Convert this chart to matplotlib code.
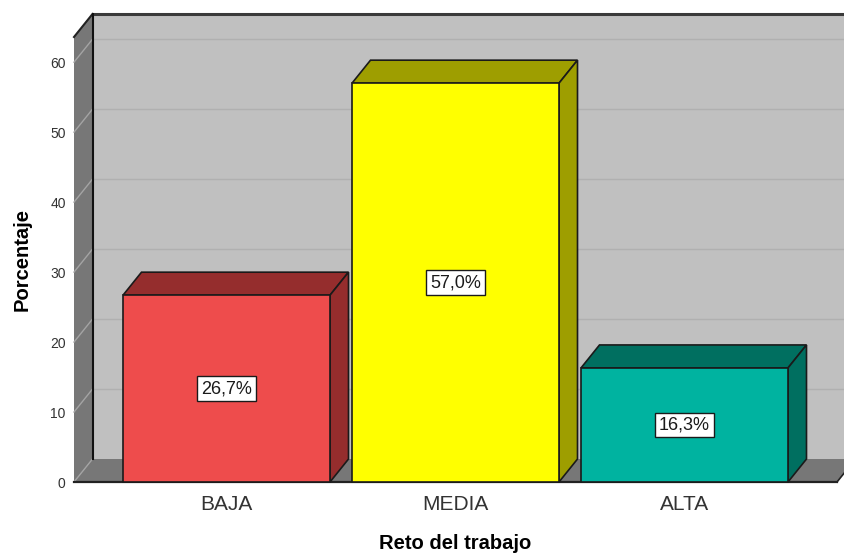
import numpy as np
import matplotlib.pyplot as plt
from matplotlib.patches import Polygon, Rectangle

plt.rcParams['font.family'] = ['Liberation Sans', 'DejaVu Sans']

# datos del gráfico
categorias = ['BAJA', 'MEDIA', 'ALTA']
porcentajes = [26.7, 57.0, 16.3]
etiquetas = ['26,7%', '57,0%', '16,3%']
ticks_y = [0, 10, 20, 30, 40, 50, 60]

colores_frente = ['#ee4c4c', '#ffff00', '#00b3a0']
colores_sombra = ['#952d2d', '#9e9e00', '#006f60']

# escala y profundidad del efecto 3D
xmin, xmax = -0.666, 2.666
ymax = 63.6
ancho_barra = 0.904
prof_px = (18.5, 23.0)

fig = plt.figure(figsize=(8.44, 5.56), dpi=100)
ax = fig.add_axes([74 / 844, 74 / 556, 763 / 844, 445 / 556])
ax.set_xlim(xmin, xmax)
ax.set_ylim(0, ymax)
for s in ax.spines.values():
    s.set_visible(False)
ax.patch.set_visible(False)

# pasar el desplazamiento en pixeles a unidades de datos
p0 = ax.transData.transform((0, 0))
ddx, ddy = ax.transData.inverted().transform((p0[0] + prof_px[0], p0[1] + prof_px[1]))

# pared del fondo
ax.add_patch(Rectangle((xmin + ddx, ddy), xmax - xmin, ymax, facecolor='#c0c0c0',
                       edgecolor='none', zorder=0, clip_on=False))
for t in ticks_y[1:]:
    ax.plot([xmin + ddx, xmax + ddx], [t + ddy, t + ddy], color='#b0b0b0', lw=1.0,
            zorder=1, clip_on=False)
ax.plot([xmin + ddx, xmax + ddx + 1], [ymax + ddy, ymax + ddy], color='#3a3a3a', lw=2.2,
        zorder=3, clip_on=False)

# pared lateral
ax.add_patch(Polygon([(xmin, 0), (xmin, ymax), (xmin + ddx, ymax + ddy), (xmin + ddx, ddy)],
                     closed=True, facecolor='#777777', edgecolor='none', zorder=2, clip_on=False))
for t in ticks_y[1:]:
    ax.plot([xmin, xmin + ddx], [t, t + ddy], color='#a4a4a4', lw=1.0, zorder=2.5, clip_on=False)
ax.plot([xmin, xmin + ddx], [ymax, ymax + ddy], color='#222222', lw=1.5, zorder=3, clip_on=False)
ax.plot([xmin + ddx, xmin + ddx], [ddy, ymax + ddy], color='#111111', lw=1.5, zorder=3,
        clip_on=False)

# suelo
ax.add_patch(Polygon([(xmin, 0), (xmax, 0), (xmax + ddx, ddy), (xmin + ddx, ddy)],
                     closed=True, facecolor='#777777', edgecolor='none', zorder=2, clip_on=False))
ax.plot([xmin, xmin + ddx], [0, ddy], color='#a4a4a4', lw=1.0, zorder=2.5, clip_on=False)
ax.plot([xmin, xmax], [0, 0], color='#222222', lw=1.6, zorder=3, clip_on=False)
ax.plot([xmax, xmax + ddx], [0, ddy], color='#222222', lw=1.2, zorder=3, clip_on=False)

# barras
x = np.arange(len(categorias))
barras = ax.bar(x, porcentajes, width=ancho_barra, color=colores_frente,
                edgecolor='#1a1a1a', linewidth=1.2, zorder=6, clip_on=False)
for xi, v, sombra in zip(x, porcentajes, colores_sombra):
    x0, x1 = xi - ancho_barra / 2, xi + ancho_barra / 2
    techo = [(x0, v), (x1, v), (x1 + ddx, v + ddy), (x0 + ddx, v + ddy)]
    lado = [(x1, 0), (x1 + ddx, ddy), (x1 + ddx, v + ddy), (x1, v)]
    ax.add_patch(Polygon(techo, closed=True, facecolor=sombra, edgecolor='#1a1a1a',
                         lw=1.2, zorder=5, clip_on=False))
    ax.add_patch(Polygon(lado, closed=True, facecolor=sombra, edgecolor='#1a1a1a',
                         lw=1.2, zorder=5, clip_on=False))

for xi, v, txt in zip(x, porcentajes, etiquetas):
    ax.text(xi, v / 2, txt, ha='center', va='center', fontsize=13, color='#1a1a1a',
            zorder=8, bbox=dict(boxstyle='square,pad=0.22', facecolor='white',
                                edgecolor='#1a1a1a', linewidth=1.0))

# ejes
ax.set_yticks(ticks_y)
ax.set_yticklabels([str(t) for t in ticks_y], fontsize=10, color='#333333')
ax.set_xticks(x)
ax.set_xticklabels(categorias, fontsize=15, color='#333333')
ax.tick_params(axis='y', length=0, pad=6)
ax.tick_params(axis='x', length=0, pad=9)
ax.set_ylabel('Porcentaje', fontsize=14.5, fontweight='bold', labelpad=13)
ax.set_xlabel('Reto del trabajo', fontsize=14.5, fontweight='bold', labelpad=15)

fig.savefig('out.png', dpi=100)
